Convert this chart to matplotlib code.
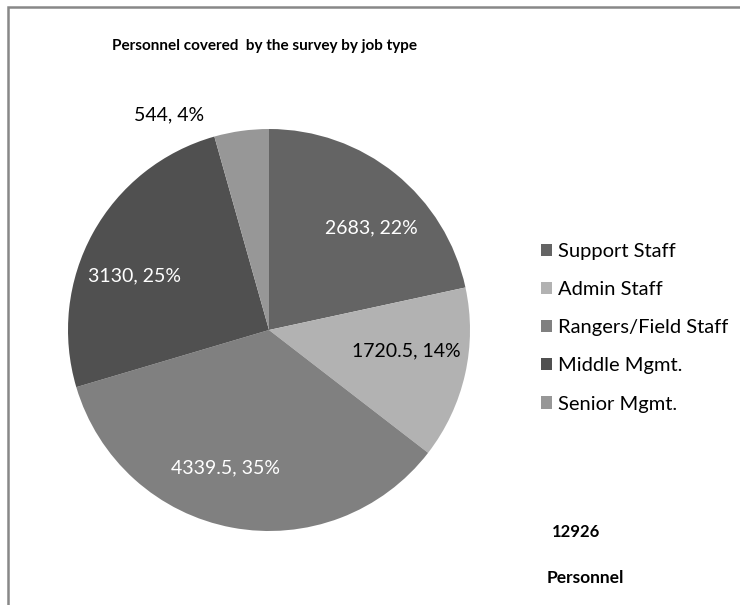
import numpy as np
import matplotlib
matplotlib.use('Agg')
import matplotlib.pyplot as plt
from matplotlib.patches import Rectangle

# Personnel counts per job type
job_types = ['Support Staff', 'Admin Staff', 'Rangers/Field Staff', 'Middle Mgmt.', 'Senior Mgmt.']
personnel = [2683, 1720.5, 4339.5, 3130, 544]
total_personnel = 12926

colors = ['#646464', '#b2b2b2', '#808080', '#505050', '#979797']
label_colors = ['white', 'black', 'white', 'white', 'black']
# where each value label sits: radius (fraction of pie) and angular nudge in degrees
label_radius = [0.72, 0.69, 0.72, 0.72, 1.18]
label_nudge = [6, -4, 7, -7, -17]

plt.rcParams['font.family'] = ['Lato', 'DejaVu Sans']

W, H = 740, 605
fig = plt.figure(figsize=(W / 100, H / 100), dpi=100)

# pie centre (269, 330) px, radius 201 px
cx, cy, r = 269, 330, 201
ax = fig.add_axes([(cx - r) / W, (H - cy - r) / H, 2 * r / W, 2 * r / H])
wedges, _ = ax.pie(personnel, colors=colors, startangle=90, counterclock=False,
                   radius=1.0, wedgeprops=dict(linewidth=0))
ax.set_xlim(-1, 1)
ax.set_ylim(-1, 1)
ax.set_aspect('equal')

tot = sum(personnel)
for w, v, rad, nud, lc in zip(wedges, personnel, label_radius, label_nudge, label_colors):
    mid = np.deg2rad((w.theta1 + w.theta2) / 2 - nud)
    pct = v / tot * 100
    txt = f'{v:g}, {pct:.0f}%'
    ax.text(rad * np.cos(mid), rad * np.sin(mid), txt, ha='center', va='center',
            color=lc, fontsize=14, clip_on=False)

fig.text(265 / W, 1 - 46 / H, 'Personnel covered  by the survey by job type',
         ha='center', va='center', fontsize=11, fontweight='bold')

leg = fig.legend(wedges, job_types, loc='upper left',
                 bbox_to_anchor=(533 / W, 1 - 235 / H), frameon=False,
                 handlelength=0.55, handleheight=0.55, handletextpad=0.3,
                 labelspacing=1.05, fontsize=14.5, borderaxespad=0)

fig.text(552 / W, 1 - 532 / H, f'{total_personnel}', ha='left', va='center',
         fontsize=12, fontweight='bold')
fig.text(547 / W, 1 - 578 / H, 'Personnel', ha='left', va='center',
         fontsize=12.5, fontweight='bold')

# chart border (right and bottom edges fall outside the image)
fig.add_artist(Rectangle((8 / W, -0.1), 1.2, 1.1 - 7 / H, transform=fig.transFigure,
                         fill=False, edgecolor='#888888', linewidth=1.8))

fig.savefig('out.png', dpi=100)
